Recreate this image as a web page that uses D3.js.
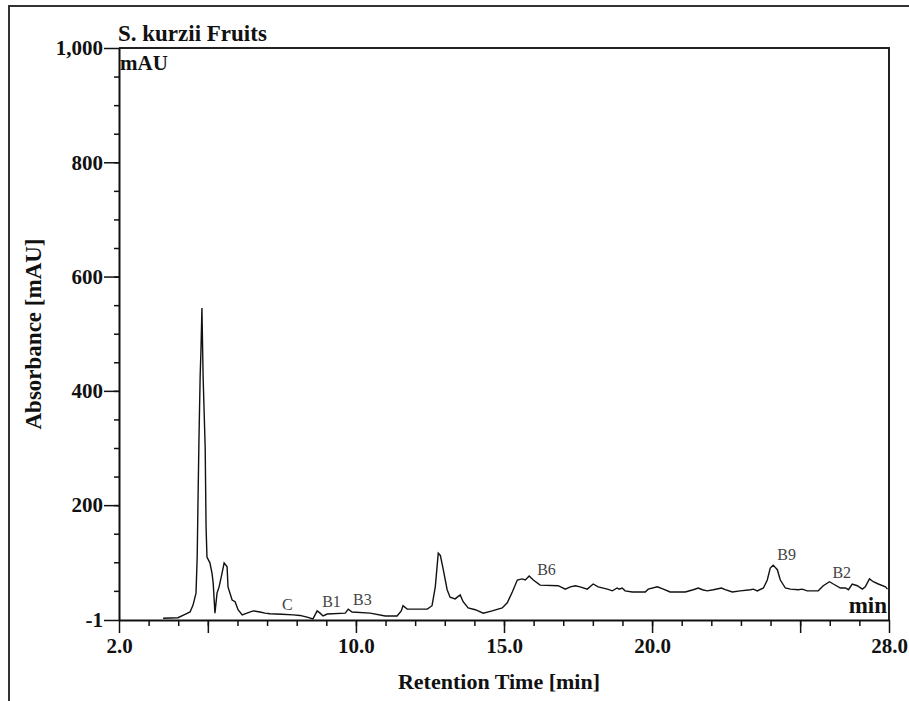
<!DOCTYPE html>
<html>
<head>
<meta charset="utf-8">
<script src="https://cdn.jsdelivr.net/npm/d3@7"></script>
<style>
    body { margin: 0; background: #fff; }
    svg { display: block; font-family: "Liberation Serif", "Times New Roman", serif; }
    .axis .tick text { font-family: "Liberation Serif", "Times New Roman", serif; font-weight: bold; font-size: 21px; fill: #111; }
    .axis path, .axis line { stroke: #111; }
</style>
</head>
<body>
<svg id="vis" width="909" height="701"></svg>
<script>
// retention time [min] and absorbance [mAU] of the trace
const times = [
    3.49, 3.99, 4.23, 4.40, 4.50, 4.60, 4.64, 4.67, 4.70, 4.74, 4.77, 4.80, 4.84, 4.91, 4.94, 4.97,
    5.07, 5.14, 5.18, 5.24, 5.31, 5.38, 5.48, 5.55, 5.65, 5.68, 5.82, 5.92, 6.02, 6.16, 6.32, 6.53,
    6.76, 6.93, 7.10, 7.50, 7.88, 8.11, 8.35, 8.55, 8.69, 8.79, 8.89, 9.03, 9.64, 9.74, 9.87, 10.48,
    10.99, 11.39, 11.53, 11.59, 11.73, 12.41, 12.57, 12.68, 12.78, 12.85, 12.95, 13.08, 13.18, 13.35,
    13.52, 13.62, 13.79, 14.03, 14.30, 14.60, 14.94, 15.11, 15.28, 15.45, 15.61, 15.72, 15.85, 15.99,
    16.22, 16.83, 17.07, 17.24, 17.41, 17.57, 17.81, 18.01, 18.18, 18.49, 18.66, 18.82, 18.89, 18.99,
    19.09, 19.33, 19.77, 19.87, 20.18, 20.38, 20.61, 20.95, 21.12, 21.39, 21.56, 21.70, 21.86, 22.07,
    22.34, 22.47, 22.71, 22.98, 23.32, 23.42, 23.55, 23.76, 23.89, 23.99, 24.09, 24.23, 24.33, 24.50,
    24.67, 24.94, 25.07, 25.24, 25.61, 25.78, 25.99, 26.12, 26.36, 26.53, 26.63, 26.76, 26.93, 27.10,
    27.20, 27.34, 27.47, 27.64, 27.88, 27.95
];
const absorbance = [
    2, 3, 9, 13, 25, 46, 109, 215, 315, 425, 476, 545, 425, 301, 162, 109,
    99, 81, 64, 11, 46, 57, 81, 99, 92, 57, 34, 31, 17, 8, 11, 15,
    13, 11, 10, 9, 8, 7, 4, 1, 15, 11, 6, 9.5, 11, 18, 13, 11,
    6, 6, 15, 24, 18, 18, 24, 57, 116, 112, 87, 52, 39, 36,
    43, 31, 20, 17, 11, 15, 20, 29, 48, 69, 71, 69, 76, 69,
    60, 59, 53, 57, 59, 57, 53, 62, 57, 53, 50, 55, 53, 55,
    50, 48, 48, 53, 57, 53, 48, 48, 48, 52, 55, 52, 50, 52,
    55, 52, 48, 50, 52, 53, 50, 55, 69, 90, 95, 87, 69, 55,
    53, 52, 53, 50, 50, 59, 66, 62, 55, 55, 52, 62, 59, 53,
    57, 71, 66, 62, 57, 53
];

// peak annotations: name, time where the text starts, level of its baseline [mAU]
const peakNames = ["C", "B1", "B3", "B6", "B9", "B2"];
const peakTimes = [7.50, 8.86, 9.90, 16.12, 24.23, 26.09];
const peakLevels = [16, 22, 25, 78, 104, 73];

const xMajor = [2, 5, 10, 15, 20, 25, 28];
const xLabelled = [2, 10, 15, 20, 28];
const yMajor = [-1, 200, 400, 600, 800, 1000];

const plot = { left: 119, right: 889, top: 48, bottom: 620 };

const svg = d3.select("#vis");

const x = d3.scaleLinear().domain([2, 28]).range([plot.left, plot.right]);
const y = d3.scaleLinear().domain([-1, 1000]).range([plot.bottom, plot.top]);

// plain hyphen for negatives, comma for thousands
const yFormat = d => d3.format(",")(d).replace("\u2212", "-");

// outer frame (only top and left edge fall inside the page)
svg.append("path")
    .attr("d", "M9,701V6H909")
    .attr("fill", "none")
    .attr("stroke", "#333")
    .attr("stroke-width", 2);

// top and right edge of the plot box
svg.append("path")
    .attr("d", `M${plot.left},${plot.top}H${plot.right}V${plot.bottom}`)
    .attr("fill", "none")
    .attr("stroke", "#222")
    .attr("stroke-width", 2);

// minor ticks
svg.append("g")
    .attr("class", "axis")
    .attr("transform", `translate(0,${plot.bottom})`)
    .call(d3.axisBottom(x).tickValues(d3.range(3, 28)).tickSize(6).tickFormat(""))
    .call(g => g.select(".domain").remove())
    .selectAll("line").attr("stroke-width", 1.5);

svg.append("g")
    .attr("class", "axis")
    .attr("transform", `translate(${plot.left},0)`)
    .call(d3.axisLeft(y).tickValues(d3.range(50, 1000, 50)).tickSize(5).tickFormat(""))
    .call(g => g.select(".domain").remove())
    .selectAll("line").attr("stroke-width", 1.5);

// major ticks and labels
svg.append("g")
    .attr("class", "axis")
    .attr("transform", `translate(0,${plot.bottom})`)
    .call(d3.axisBottom(x)
        .tickValues(xMajor)
        .tickSize(13)
        .tickSizeOuter(0)
        .tickPadding(5)
        .tickFormat(d => xLabelled.includes(d) ? d3.format(".1f")(d) : ""))
    .call(g => g.select(".domain").attr("stroke-width", 2))
    .selectAll("line").attr("stroke-width", 1.5);

svg.append("g")
    .attr("class", "axis")
    .attr("transform", `translate(${plot.left},0)`)
    .call(d3.axisLeft(y)
        .tickValues(yMajor)
        .tickSize(15)
        .tickSizeOuter(0)
        .tickPadding(1)
        .tickFormat(yFormat))
    .call(g => g.select(".domain").attr("stroke-width", 2))
    .selectAll("line").attr("stroke-width", 1.5);

// the trace
let line = d3.line()
    .x((d, i) => x(times[i]))
    .y(d => y(d));

svg.append("path")
    .datum(absorbance)
    .attr("d", line)
    .attr("fill", "none")
    .attr("stroke", "#111")
    .attr("stroke-width", 1.4)
    .attr("stroke-linejoin", "miter");

// peak labels
svg.append("g")
    .selectAll("text")
    .data(peakNames)
    .enter().append("text")
        .attr("x", (d, i) => x(peakTimes[i]))
        .attr("y", (d, i) => y(peakLevels[i]))
        .attr("font-size", 16)
        .attr("fill", "#444")
        .text(d => d);

// titles
svg.append("text")
    .attr("x", 118).attr("y", 41)
    .attr("font-size", 23).attr("font-weight", "bold").attr("fill", "#111")
    .text("S. kurzii Fruits");

svg.append("text")
    .attr("x", 120).attr("y", 70)
    .attr("font-size", 21).attr("font-weight", "bold").attr("fill", "#111")
    .text("mAU");

svg.append("text")
    .attr("x", 887).attr("y", 613)
    .attr("text-anchor", "end")
    .attr("font-size", 23).attr("font-weight", "bold").attr("fill", "#111")
    .text("min");

svg.append("text")
    .attr("x", 499).attr("y", 689)
    .attr("text-anchor", "middle")
    .attr("font-size", 22).attr("font-weight", "bold").attr("fill", "#111")
    .text("Retention Time [min]");

svg.append("text")
    .attr("transform", "translate(41,334) rotate(-90)")
    .attr("text-anchor", "middle")
    .attr("font-size", 23).attr("font-weight", "bold").attr("fill", "#111")
    .text("Absorbance [mAU]");
</script>
</body>
</html>
